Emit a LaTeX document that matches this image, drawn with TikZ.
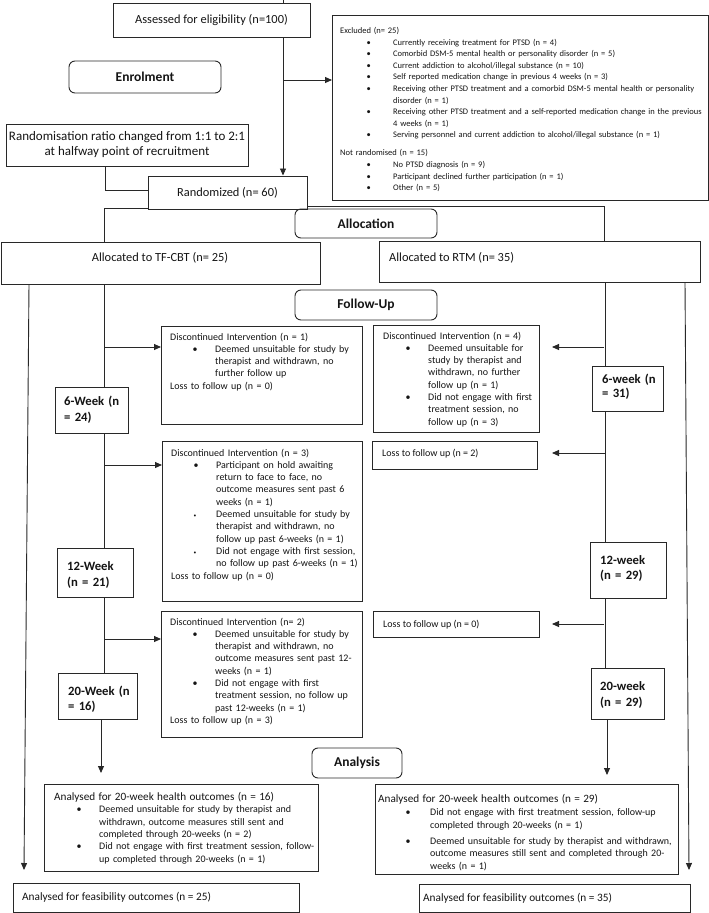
\documentclass[tikz,border=0pt]{standalone}
\usepackage{fontspec}
\setmainfont{Carlito}
\usetikzlibrary{arrows.meta}
\definecolor{lc}{RGB}{40,40,40}
\definecolor{tc}{RGB}{20,20,20}
\newlength{\mybi}\newlength{\mybs}
\newcommand{\bset}[2]{\setlength{\mybi}{#1}\setlength{\mybs}{#2}}
\newcommand{\bitem}[2][\textbullet]{\par{\leftskip=\mybi\noindent\llap{\makebox[\mybs][l]{#1}}#2\par}}
\newcommand{\smb}{{\fontsize{5.5}{5.5}\selectfont\textbullet}}
\newcommand{\fA}{\fontsize{12.4}{15}\selectfont}
\newcommand{\fR}{\fontsize{13}{15}\selectfont}
\newcommand{\fEx}{\fontsize{8.5}{11.6}\selectfont}
\newcommand{\fD}{\fontsize{10}{12.3}\selectfont}
\newcommand{\fH}{\fontsize{11.2}{12.3}\selectfont}
\newcommand{\fF}{\fontsize{11.3}{13}\selectfont}
\newcommand{\fW}[1]{\fontsize{12.7}{#1}\selectfont\bfseries}
\newcommand{\fP}{\fontsize{13.5}{16}\selectfont\bfseries}
\newcommand{\bx}[5]{\node[box, minimum width={(#4-#2)*1pt}, minimum height={(#5-#3)*1pt}] (#1) at (#2,#3) {};}
\begin{document}
\begin{tikzpicture}[x=1pt,y=-1pt,
  box/.style={draw=lc, line width=0.95pt, inner sep=0pt, anchor=north west},
  cbox/.style={draw=lc, line width=0.95pt, inner sep=0pt, text=tc, align=center},
  rbox/.style={draw=lc, line width=0.95pt, rounded corners=6pt, inner sep=0pt, font=\fP, text=tc},
  tx/.style={anchor=base west, inner sep=0pt, align=left, text width=#1, text=tc},
  tx/.default=320pt,
  lbl/.style={inner sep=0pt, text=tc},
  ln/.style={draw=lc, line width=0.9pt},
  arr/.style={ln, -{Triangle[length=7pt,width=6pt]}},
]
\useasboundingbox (0,0) rectangle (709,913);

% ---------------- Enrolment ----------------
\node[cbox, font=\fA, minimum width=197pt, minimum height=34pt] (assess) at (211.5,20) {Assessed for eligibility (n=100)};
\bx{excl}{332}{15}{708}{200}
\node[tx=365pt, font=\fEx] (exclt) at (340,33.5) {\bset{53pt}{26.5pt}Excluded (n= 25)
\bitem{Currently receiving treatment for PTSD (n = 4)}
\bitem{Comorbid DSM-5 mental health or personality disorder (n = 5)}
\bitem{Current addiction to alcohol/illegal substance (n = 10)}
\bitem{Self reported medication change in previous 4 weeks (n = 3)}
\bitem{Receiving other PTSD treatment and a comorbid DSM-5 mental health or personality\\disorder (n = 1)}
\bitem{Receiving other PTSD treatment and a self-reported medication change in the previous\\4 weeks (n = 1)}
\bitem{Serving personnel and current addiction to alcohol/illegal substance (n = 1)}
\vspace{6.4pt}Not randomised (n = 15)
\bitem{No PTSD diagnosis (n = 9)}
\bitem{Participant declined further participation (n = 1)}
\bitem{Other (n = 5)}};
\node[rbox, minimum width=152pt, minimum height=32pt] (enrol) at (145,77) {Enrolment};
\node[cbox, font=\fR, minimum width=242pt, minimum height=42pt] (ratio) at (127,145) {Randomisation ratio changed from 1:1 to 2:1\\at halfway point of recruitment};
\node[cbox, font=\fA, minimum width=159pt, minimum height=33pt] (rand) at (227.5,192.5) {Randomized (n= 60)};

% ---------------- Allocation ----------------
\node[rbox, minimum width=142pt, minimum height=29pt] (alloc) at (366,223.5) {Allocation};
\bx{tf}{1}{242}{320}{284}
\node[lbl, anchor=base, font=\fA] (tft) at (160,261.5) {Allocated to TF-CBT (n= 25)};
\bx{rtm}{379}{241}{700}{282}
\node[lbl, anchor=base west, font=\fA] (rtmt) at (389,261.5) {Allocated to RTM (n= 35)};

% ---------------- Follow-Up ----------------
\node[rbox, minimum width=142pt, minimum height=30pt] (fu) at (366,305) {Follow-Up};

\bx{d1}{161}{326}{362}{424}
\node[tx=190pt, font=\fD] (d1t) at (170,340) {\bset{45pt}{22.5pt}Discontinued Intervention (n = 1)
\bitem{Deemed unsuitable for study by\\therapist and withdrawn, no\\further follow up}
Loss to follow up (n = 0)};

\bx{d2}{162}{441}{362}{601}
\node[tx=190pt, font=\fD] (d2t) at (171,456) {\bset{45pt}{22.5pt}Discontinued Intervention (n = 3)
\bitem{Participant on hold awaiting\\return to face to face, no\\outcome measures sent past 6\\weeks (n = 1)}
\bitem[\smb]{Deemed unsuitable for study by\\therapist and withdrawn, no\\follow up past 6-weeks (n = 1)}
\bitem[\smb]{Did not engage with first session,\\no follow up past 6-weeks (n = 1)}
Loss to follow up (n = 0)};

\bx{d3}{161}{611}{362}{737}
\node[tx=190pt, font=\fD] (d3t) at (170,625) {\bset{45pt}{22.5pt}Discontinued Intervention (n= 2)
\bitem{Deemed unsuitable for study by\\therapist and withdrawn, no\\outcome measures sent past 12-\\weeks (n = 1)}
\bitem{Did not engage with first\\treatment session, no follow up\\past 12-weeks (n = 1)}
Loss to follow up (n = 3)};

\bx{dr}{373}{325}{539}{432}
\node[tx=160pt, font=\fD] (drt) at (383,339) {\bset{45pt}{22.5pt}Discontinued Intervention (n = 4)
\bitem{Deemed unsuitable for\\study by therapist and\\withdrawn, no further\\follow up (n = 1)}
\bitem{Did not engage with first\\treatment session, no\\follow up (n = 3)}};

\bx{lr1}{372}{441}{537}{469}
\node[lbl, anchor=base west, font=\fD] (lr1t) at (382,456) {Loss to follow up (n = 2)};
\bx{lr2}{373}{611}{539}{637}
\node[lbl, anchor=base west, font=\fD] (lr2t) at (383,627) {Loss to follow up (n = 0)};

% week boxes
\bx{w6l}{55}{387}{128}{433}
\node[tx=80pt, font={\fW{16.5}}] (w6lt) at (64,405) {6-Week (n\\= 24)};
\bx{w12l}{57}{548}{133}{597}
\node[tx=80pt, font={\fW{16}}] (w12lt) at (67,570) {12-Week\\(n = 21)};
\bx{w20l}{58}{673}{137}{719}
\node[tx=80pt, font={\fW{15.5}}] (w20lt) at (68,695) {20-Week (n\\= 16)};
\bx{w6r}{592}{366}{663}{411}
\node[tx=80pt, font={\fW{14.5}}] (w6rt) at (602,383) {6-week (n\\= 31)};
\bx{w12r}{590}{542}{666}{598}
\node[tx=80pt, font={\fW{15.5}}] (w12rt) at (600,564) {12-week\\(n = 29)};
\bx{w20r}{591}{668}{664}{719}
\node[tx=80pt, font={\fW{16}}] (w20rt) at (600,690) {20-week\\(n = 29)};

% ---------------- Analysis ----------------
\node[rbox, minimum width=90pt, minimum height=30pt] (anal) at (357,763) {Analysis};

\bx{al}{44}{784}{318}{871}
\node[tx=270pt, font=\fD] (alt) at (54,800.5) {\bset{45pt}{22.5pt}{\fH Analysed for 20-week health outcomes (n = 16)}
\bitem{Deemed unsuitable for study by therapist and\\withdrawn, outcome measures still sent and\\completed through 20-weeks (n = 2)}
\bitem{Did not engage with first treatment session, follow-\\up completed through 20-weeks (n = 1)}};

\bx{ar}{375}{784}{678}{874}
\node[tx=300pt, font=\fD] (art) at (378,802) {\bset{52pt}{24.5pt}{\fH Analysed for 20-week health outcomes (n = 29)}
\par\vspace{1.5pt}
\bitem{Did not engage with first treatment session, follow-up\\completed through 20-weeks (n = 1)}
\vspace{4pt}
\bitem{Deemed unsuitable for study by therapist and withdrawn,\\outcome measures still sent and completed through 20-\\weeks (n = 1)}};

\bx{fl}{13}{883}{299}{912}
\node[lbl, anchor=base west, font=\fF] (flt) at (22,900) {Analysed for feasibility outcomes (n = 25)};
\bx{fr}{419}{884}{690}{912}
\node[lbl, anchor=base west, font=\fF] (frt) at (423,901) {Analysed for feasibility outcomes (n = 35)};

% ---------------- connectors ----------------
\coordinate (top) at (283,0);
\draw[ln] (top) -- (top |- assess.north);
\draw[arr] (top |- assess.south) -- (top |- rand.north);
\coordinate (jx) at (283,80);
\draw[arr] (jx) -- (jx -| excl.west);

\coordinate (c1) at (105,190);
\draw[ln] (c1 |- ratio.south) -- (c1) -- (c1 -| rand.west);
\coordinate (c2) at (104,208.5);
\draw[ln] (c2 -| rand.west) -- (c2) -- (c2 |- tf.north);
\coordinate (c3) at (604,206);
\draw[ln] (c3 -| rand.east) -- (c3) -- (c3 |- rtm.north);

% left column
\coordinate (ll1) at (29,284);
\coordinate (ll2) at (24,870);
\draw[arr] (ll1) -- (ll2);
\coordinate (ml) at (104,300);
\draw[ln] (ml |- tf.south) -- (ml |- w6l.north);
\draw[ln] (ml |- w6l.south) -- (ml |- w12l.north);
\draw[ln] (ml |- w12l.south) -- (ml |- w20l.north);
\coordinate (ml4) at (101,773);
\draw[arr] (ml4 |- w20l.south) -- (ml4);
\coordinate (h1) at (105,347);
\draw[arr] (h1) -- (h1 -| d1.west);
\coordinate (h2) at (104,465);
\draw[arr] (h2) -- (h2 -| d2.west);
\coordinate (h3) at (104,639);
\draw[arr] (h3) -- (h3 -| d3.west);

% right column
\coordinate (rl1) at (685,282);
\coordinate (rl2) at (689,870);
\draw[arr] (rl1) -- (rl2);
\coordinate (mr) at (605,300);
\draw[ln] (mr |- rtm.south) -- (mr |- w6r.north);
\draw[ln] (mr |- w6r.south) -- (mr |- w12r.north);
\draw[ln] (mr |- w12r.south) -- (mr |- w20r.north);
\coordinate (mr4) at (607,775);
\draw[arr] (mr4 |- w20r.south) -- (mr4);
\coordinate (r1) at (604,347);
\coordinate (r1e) at (552,347);
\draw[arr] (r1) -- (r1e);
\coordinate (r2) at (605,453);
\coordinate (r2e) at (552,453);
\draw[arr] (r2) -- (r2e);
\coordinate (r3) at (604,624);
\coordinate (r3e) at (552,624);
\draw[arr] (r3) -- (r3e);
\end{tikzpicture}
\end{document}
